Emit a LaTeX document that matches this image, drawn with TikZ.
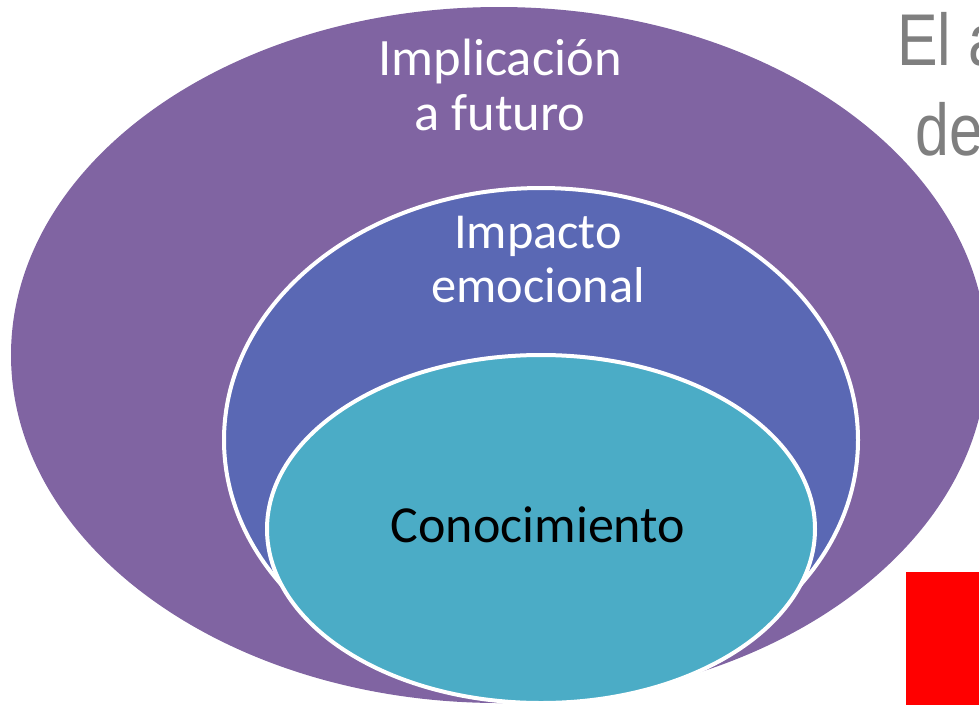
\documentclass[tikz,border=0pt]{standalone}
\usepackage{fontspec}
\setmainfont{Carlito}
\newfontfamily\titlefont[FakeStretch=0.83]{Liberation Sans}
\usepackage{tikz}
\usetikzlibrary{shapes.geometric,positioning}

\definecolor{purpleouter}{RGB}{128,100,162}
\definecolor{bluemiddle}{RGB}{90,104,180}
\definecolor{tealinner}{RGB}{75,172,198}
\definecolor{titlegray}{RGB}{127,127,127}

\begin{document}
\begin{tikzpicture}[x=0.75pt, y=-0.75pt,
                    ring/.style={ellipse, inner sep=0pt, line width=3pt, draw=white},
                    ring_label/.style={align=center, anchor=base, text=white},
                    title_text/.style={anchor=base west, inner sep=0pt, text=titlegray,
                                       font=\titlefont\fontsize{55}{66}\selectfont}]
   %\draw[help lines] (0,0) grid (979,704);
   \useasboundingbox (0,0) rectangle (979,704);
   \clip (0,0) rectangle (979,704);

   % title text, cut by the page edge
   \node[title_text] (title_one) at (897,65) {El a};
   \node[title_text] (title_two) at (915,155) {de};

   % nested ellipses
   \node[ring, draw=none, fill=purpleouter, minimum width=732pt, minimum height=522pt] (future) at (499,355) {};
   \node[ring, fill=bluemiddle, minimum width=475.5pt, minimum height=378pt] (emotional) at (541,440) {};
   \node[ring, fill=tealinner, minimum width=411pt, minimum height=261pt] (knowledge) at (541,529) {};

   % labels (base = last line)
   \node[ring_label, font=\fontsize{39.4}{41.25}\selectfont] (future_label) at (500,130) {Implicación\\a futuro};
   \node[ring_label, font=\fontsize{37.8}{40.5}\selectfont] (emotional_label) at (538,302) {Impacto\\emocional};
   \node[anchor=base, font=\fontsize{39}{41}\selectfont] (knowledge_label) at (538,542) {Conocimiento};

   % red block
   \node[draw=none, fill=red, minimum width=60pt, minimum height=110pt, inner sep=0pt, anchor=north west] (red_block) at (906,572) {};
\end{tikzpicture}
\end{document}
